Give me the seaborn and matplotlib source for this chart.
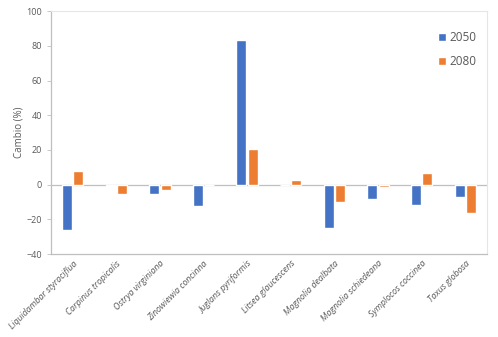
import pandas as pd
import seaborn as sns
import matplotlib.pyplot as plt

# data
species = ["Liquidambar styraciflua", "Carpinus tropicalis", "Ostrya virginiana",
           "Zinowiewia concinna", "Juglans pyriformis", "Litsea glaucescens",
           "Magnolia dealbata", "Magnolia schiedeana", "Symplocos coccinea",
           "Taxus globosa"]
change_2050 = [-26.0, -1.0, -5.4, -12.3, 83.3, 0.0, -25.1, -8.4, -11.9, -7.3]
change_2080 = [7.7, -5.4, -3.0, 0.0, 20.5, 2.7, -10.1, -1.5, 6.9, -16.5]
years = ["2050", "2080"]
colors = ["#4472C4", "#ED7D31"]

df = pd.DataFrame({
    "species": species * 2,
    "cambio": change_2050 + change_2080,
    "year": [years[0]] * len(species) + [years[1]] * len(species),
})

sns.set_style("white")
plt.rcParams["font.family"] = ["Open Sans", "DejaVu Sans"]
GREY = "#595959"

fig = plt.figure(figsize=(4.98, 3.37), dpi=100)
ax = fig.add_axes([0.102, 0.246, 0.876, 0.721])

sns.barplot(data=df, x="species", y="cambio", hue="year", palette=colors,
            width=0.52, gap=0.12, ax=ax, saturation=1, zorder=2)

ax.set_ylim(-40, 100)
ax.set_yticks(range(-40, 101, 20))
ax.set_xlim(-0.5, len(species) - 0.5)
ax.axhline(0, color="#BFBFBF", lw=0.9, zorder=1)
ax.set_xlabel("")
ax.set_ylabel("Cambio (%)", fontsize=7, color=GREY, labelpad=1)
ax.tick_params(axis="y", labelsize=6.5, labelcolor=GREY, color="#BFBFBF",
               length=3, width=0.6, direction="out", left=True)
ax.tick_params(axis="x", length=0)
ax.set_xticks(range(len(species)))
ax.set_xticklabels(species, rotation=45, ha="right", rotation_mode="anchor",
                   fontsize=6.3, style="italic", color=GREY)

for side in ["top", "right"]:
    ax.spines[side].set_visible(True)
    ax.spines[side].set_color("#E6E6E6")
    ax.spines[side].set_linewidth(0.8)
for side in ["left", "bottom"]:
    ax.spines[side].set_color("#BFBFBF")
    ax.spines[side].set_linewidth(0.9)

leg = ax.legend(loc="upper right", bbox_to_anchor=(1.0, 0.96), frameon=False,
                fontsize=8.5, handlelength=0.7, handleheight=0.7,
                handletextpad=0.3, labelspacing=0.9)
for t in leg.get_texts():
    t.set_color(GREY)

fig.savefig("out.png", dpi=100)
